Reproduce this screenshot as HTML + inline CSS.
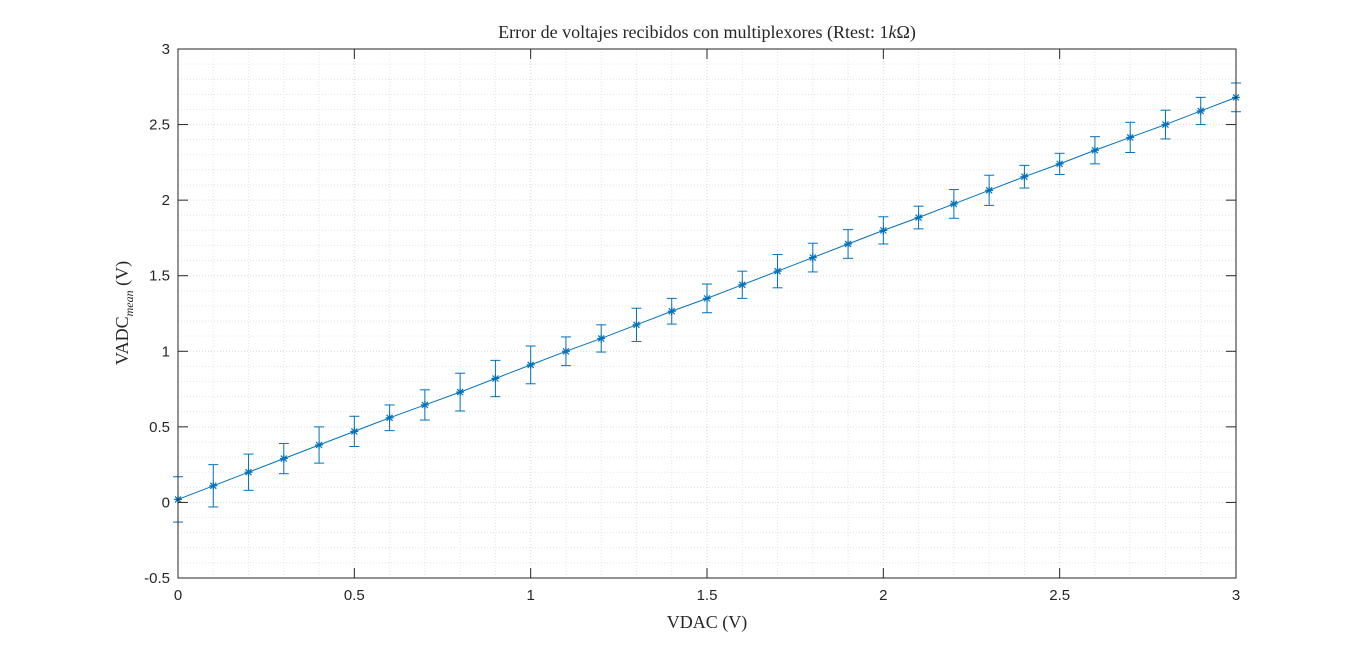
<!DOCTYPE html>
<html><head><meta charset="utf-8"><style>
html,body{margin:0;padding:0;background:#fff;width:1366px;height:651px;overflow:hidden}
svg text{fill:#262626}
</style></head><body>
<svg id="chart" width="1366" height="651" xmlns="http://www.w3.org/2000/svg">
<rect x="0" y="0" width="1366" height="651" fill="#fff"/>
<g id="grid"></g>
<g id="series"></g>
<g id="axes"></g>
<text x="707" y="38" text-anchor="middle" font-family="Liberation Serif, serif" font-size="18">Error de voltajes recibidos con multiplexores (Rtest: 1<tspan font-style="italic">k</tspan>Ω)</text>
<text x="707" y="628" text-anchor="middle" font-family="Liberation Serif, serif" font-size="18">VDAC (V)</text>
<text transform="translate(128,313) rotate(-90)" text-anchor="middle" font-family="Liberation Serif, serif" font-size="18">VADC<tspan font-size="12" font-style="italic" dy="5">mean</tspan><tspan dy="-5"> (V)</tspan></text>
</svg>
<script>
const xValues=[0,0.1,0.2,0.3,0.4,0.5,0.6,0.7,0.8,0.9,1.0,1.1,1.2,1.3,1.4,1.5,1.6,1.7,1.8,1.9,2.0,2.1,2.2,2.3,2.4,2.5,2.6,2.7,2.8,2.9,3.0];
const yMeans=[0.02,0.11,0.20,0.29,0.38,0.47,0.56,0.645,0.73,0.82,0.91,1.0,1.085,1.175,1.265,1.35,1.44,1.53,1.62,1.71,1.80,1.885,1.975,2.065,2.155,2.24,2.33,2.415,2.50,2.59,2.68];
const yErrors=[0.15,0.14,0.12,0.10,0.12,0.10,0.085,0.10,0.125,0.12,0.125,0.095,0.09,0.11,0.085,0.095,0.09,0.11,0.095,0.095,0.09,0.075,0.095,0.10,0.075,0.07,0.09,0.10,0.095,0.09,0.095];
const xTicks=[0,0.5,1,1.5,2,2.5,3];
const yTicks=[-0.5,0,0.5,1,1.5,2,2.5,3];
const xTickLabels=["0","0.5","1","1.5","2","2.5","3"];
const yTickLabels=["-0.5","0","0.5","1","1.5","2","2.5","3"];
const L=178,R=1236,T=49,B=578;
const sx=v=>L+(v-0)/(3-0)*(R-L);
const sy=v=>B-(v+0.5)/(3.5)*(B-T);
const NS="http://www.w3.org/2000/svg";
function mk(tag,attrs,parent){const e=document.createElementNS(NS,tag);for(const k in attrs)e.setAttribute(k,attrs[k]);parent.appendChild(e);return e;}
const grid=document.getElementById('grid'),ser=document.getElementById('series'),ax=document.getElementById('axes');
for(let i=1;i<30;i++){const v=i/10;if(i%5===0)continue;const l=mk('line',{x1:sx(v),x2:sx(v),y1:T,y2:B,stroke:'#e3e3e3','stroke-dasharray':'1,2'},grid);}
for(let i=-4;i<30;i++){const v=i/10;if(i%5===0)continue;const l=mk('line',{x1:L,x2:R,y1:sy(v),y2:sy(v),stroke:'#e3e3e3','stroke-dasharray':'1,2'},grid);}
xTicks.forEach((v,i)=>{const l=mk('line',{x1:sx(v),x2:sx(v),y1:T,y2:B,stroke:'#d9d9d9','stroke-dasharray':'1,2'},grid);
 const tk=mk('line',{x1:sx(v),x2:sx(v),y1:B,y2:B-10,stroke:'#262626'},ax);
 const tk2=mk('line',{x1:sx(v),x2:sx(v),y1:T,y2:T+10,stroke:'#262626'},ax);
 const t=mk('text',{x:sx(v),y:B+22,'text-anchor':'middle','font-family':'Liberation Sans, sans-serif','font-size':'15'},ax);t.textContent=xTickLabels[i];});
yTicks.forEach((v,i)=>{const l=mk('line',{x1:L,x2:R,y1:sy(v),y2:sy(v),stroke:'#d9d9d9','stroke-dasharray':'1,2'},grid);
 const tk=mk('line',{x1:L,x2:L+10,y1:sy(v),y2:sy(v),stroke:'#262626'},ax);
 const tk2=mk('line',{x1:R,x2:R-10,y1:sy(v),y2:sy(v),stroke:'#262626'},ax);
 const t=mk('text',{x:L-8,y:sy(v)+5,'text-anchor':'end','font-family':'Liberation Sans, sans-serif','font-size':'15'},ax);t.textContent=yTickLabels[i];});
const box=mk('rect',{x:L,y:T,width:R-L,height:B-T,fill:'none',stroke:'#262626'},ax);
const c='#0072bd';
const pl=mk('polyline',{points:xValues.map((x,i)=>sx(x)+','+sy(yMeans[i])).join(' '),fill:'none',stroke:c,'stroke-width':'1'},ser);
xValues.forEach((x,i)=>{const px=sx(x),y1=sy(yMeans[i]+yErrors[i]),y2=sy(yMeans[i]-yErrors[i]);
 const g=mk('g',{stroke:c,'stroke-width':'1'},ser);
 mk('line',{x1:px,x2:px,y1:y1,y2:y2},g);mk('line',{x1:px-5,x2:px+5,y1:y1,y2:y1},g);mk('line',{x1:px-5,x2:px+5,y1:y2,y2:y2},g);
 const py=sy(yMeans[i]);const m=mk('g',{stroke:c,'stroke-width':'1.2'},ser);
 mk('line',{x1:px-4,x2:px+4,y1:py,y2:py},m);mk('line',{x1:px,x2:px,y1:py-4,y2:py+4},m);mk('line',{x1:px-3,x2:px+3,y1:py-3,y2:py+3},m);mk('line',{x1:px-3,x2:px+3,y1:py+3,y2:py-3},m);});
</script>
</body></html>
